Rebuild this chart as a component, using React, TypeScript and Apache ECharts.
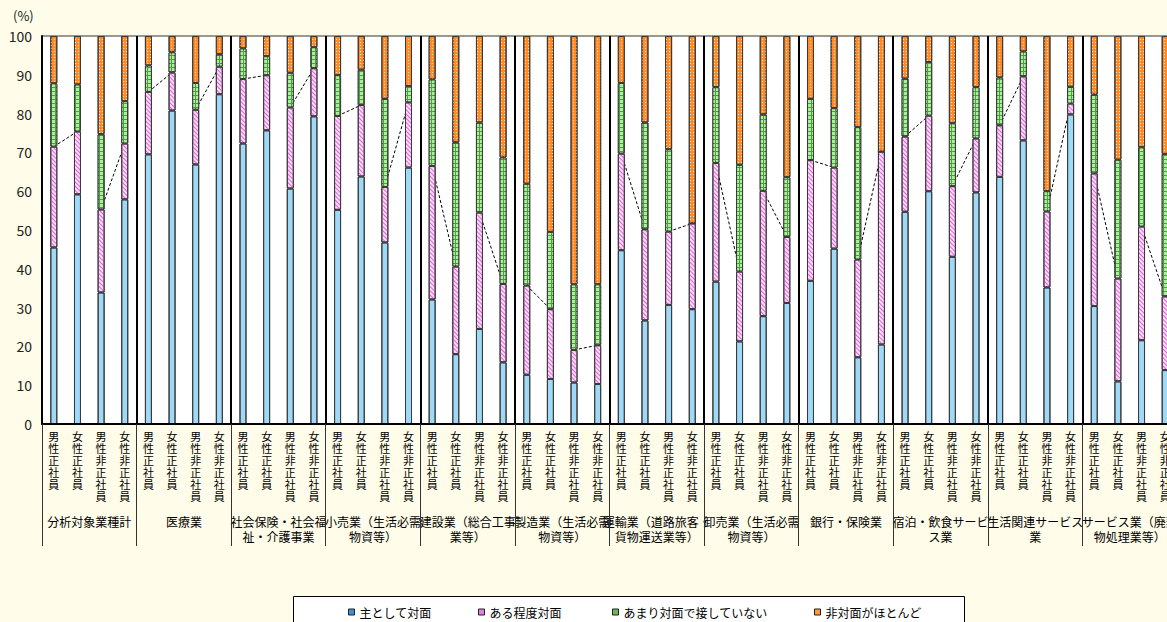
import React, { useEffect, useRef } from "react";
import * as echarts from "echarts";

const groups = [
  "分析対象業種計",
  "医療業",
  "社会保険・社会福\n祉・介護事業",
  "小売業（生活必需\n物資等）",
  "建設業（総合工事\n業等）",
  "製造業（生活必需\n物資等）",
  "運輸業（道路旅客・\n貨物運送業等）",
  "卸売業（生活必需\n物資等）",
  "銀行・保険業",
  "宿泊・飲食サービ\nス業",
  "生活関連サービス\n業",
  "サービス業（廃棄\n物処理業等）",
];

const workerTypes = ["男性正社員", "女性正社員", "男性非正社員", "女性非正社員"];

const seriesNames = ["主として対面", "ある程度対面", "あまり対面で接していない", "非対面がほとんど"];

const mainlyFace = [
  45.5, 59.2, 33.9, 57.9,
  69.5, 80.8, 66.9, 85.0,
  72.3, 75.7, 60.7, 79.3,
  55.2, 63.8, 46.8, 66.1,
  32.1, 18.0, 24.5, 15.9,
  12.7, 11.6, 10.7, 10.3,
  44.8, 26.7, 30.7, 29.6,
  36.7, 21.3, 27.8, 31.2,
  36.9, 45.2, 17.2, 20.5,
  54.7, 60.0, 43.1, 59.7,
  63.7, 73.1, 35.2, 79.8,
  30.4, 11.0, 21.6, 13.9,
];

const someFace = [
  26.0, 16.2, 21.4, 14.4,
  16.1, 9.8, 14.1, 7.1,
  16.6, 14.2, 20.9, 12.4,
  24.2, 18.4, 14.3, 16.8,
  34.4, 22.6, 30.0, 20.2,
  23.0, 18.0, 8.4, 10.0,
  24.9, 23.5, 18.9, 22.1,
  30.6, 18.0, 32.3, 17.0,
  31.1, 20.9, 25.2, 49.7,
  19.4, 19.5, 18.2, 13.9,
  13.3, 16.5, 19.6, 2.8,
  34.2, 26.5, 29.3, 19.0,
];

const rarelyFace = [
  16.3, 12.1, 19.4, 10.9,
  6.8, 5.2, 6.9, 3.2,
  7.9, 4.9, 8.9, 5.4,
  10.5, 9.1, 22.7, 4.2,
  22.3, 32.0, 23.2, 32.6,
  26.2, 19.9, 16.9, 15.7,
  18.2, 27.5, 21.2, 0.0,
  19.5, 27.5, 19.7, 15.4,
  15.8, 15.3, 34.1, 0.0,
  14.9, 13.8, 16.2, 13.2,
  12.3, 6.4, 5.2, 4.3,
  20.3, 30.6, 20.4, 36.7,
];

const mostlyNonFace = [
  12.2, 12.5, 25.3, 16.8,
  7.6, 4.2, 12.1, 4.7,
  3.2, 5.2, 9.5, 2.9,
  10.1, 8.7, 16.2, 12.9,
  11.2, 27.4, 22.3, 31.3,
  38.1, 50.5, 64.0, 64.0,
  12.1, 22.3, 29.2, 48.3,
  13.2, 33.2, 20.2, 36.4,
  16.2, 18.6, 23.5, 29.8,
  11.0, 6.7, 22.5, 13.2,
  10.7, 4.0, 40.0, 13.1,
  15.1, 31.9, 28.7, 30.4,
];

const yTicks = [0, 10, 20, 30, 40, 50, 60, 70, 80, 90, 100];

const FONT = "'Noto Sans CJK JP', 'Noto Sans', sans-serif";

export default function App() {
  const ref = useRef<HTMLDivElement>(null);

  useEffect(() => {
    if (!ref.current) return;
    const chart = echarts.init(ref.current, undefined, { renderer: "svg" });

    const categories: string[] = [];
    groups.forEach((g, gi) => {
      workerTypes.forEach((w) => categories.push(`${gi}|${w}`));
    });

    const pinkTop = mainlyFace.map((v, i) => +(v + someFace[i]).toFixed(1));
    const pairA = pinkTop.map((v, i) => (i % 4 < 2 ? v : null));
    const pairB = pinkTop.map((v, i) => (i % 4 >= 2 ? v : null));

    const styles = [
      { color: "#9ED9F7", decal: { symbol: "circle", symbolSize: 1, color: "#1C6FCC", dashArrayX: [2, 1], dashArrayY: [1, 2] } },
      { color: "#FCDDF9", decal: { symbol: "rect", symbolSize: 1, color: "#E35FDD", dashArrayX: [1, 0], dashArrayY: [1, 2], rotation: Math.PI / 4 } },
      { color: "#4F9E3F", decal: { symbol: "rect", symbolSize: 1, color: "#A9F09B", dashArrayX: [3, 1], dashArrayY: [3, 1] } },
      { color: "#FF8A26", decal: { symbol: "rect", symbolSize: 1, color: "#FFE6C8", dashArrayX: [1, 2], dashArrayY: [1, 2] } },
    ];
    const legendColors = ["#3C8FD8", "#E080DC", "#6DBA5C", "#FF9A40"];
    const values = [mainlyFace, someFace, rarelyFace, mostlyNonFace];

    const barSeries = seriesNames.map((name, si) => ({
      name,
      type: "bar",
      stack: "total",
      barWidth: 7,
      z: 3,
      data: values[si],
      itemStyle: {
        color: styles[si].color,
        decal: styles[si].decal,
        borderColor: "#3a3a3a",
        borderWidth: 1,
      },
    }));

    const lineCommon = {
      type: "line",
      symbol: "none",
      z: 1,
      connectNulls: false,
      silent: true,
      lineStyle: { color: "#000", width: 1, type: [3, 2] },
    };

    const legendLefts = [343, 473, 607, 809];

    chart.setOption({
      animation: false,
      backgroundColor: "#FFFCE9",
      textStyle: { fontFamily: FONT },
      grid: {
        left: 42,
        top: 36,
        width: 1135,
        height: 388,
        show: true,
        backgroundColor: "#ffffff",
        borderColor: "#333",
        borderWidth: 1,
      },
      legend: seriesNames.map((n, i) => ({
        data: [{ name: n, itemStyle: { color: legendColors[i], borderColor: "#222", borderWidth: 1, decal: "none" } }],
        left: legendLefts[i],
        top: 601,
        padding: 5,
        itemWidth: 6,
        itemHeight: 6,
        icon: "rect",
        selectedMode: false,
        textStyle: { fontSize: 12, color: "#000", fontFamily: FONT },
      })),
      xAxis: [
        {
          type: "category",
          data: categories,
          boundaryGap: true,
          axisLine: { show: true, lineStyle: { color: "#000", width: 2 } },
          axisTick: {
            show: true,
            interval: (i: number) => i % 4 === 0,
            length: 122,
            lineStyle: { color: "#333", width: 1 },
          },
          splitLine: {
            show: true,
            interval: (i: number) => i % 4 === 0,
            lineStyle: { color: "#000", width: 2 },
          },
          axisLabel: {
            interval: 0,
            margin: 6,
            fontSize: 11,
            lineHeight: 12,
            color: "#000",
            fontFamily: FONT,
            formatter: (v: string) => v.split("|")[1].split("").join("\n"),
          },
          z: 5,
        },
        {
          type: "category",
          data: groups,
          position: "bottom",
          axisLine: { show: false },
          axisTick: { show: false },
          splitLine: { show: false },
          axisLabel: {
            interval: 0,
            margin: 90,
            fontSize: 12,
            lineHeight: 15,
            color: "#000",
            fontFamily: FONT,
          },
        },
      ],
      yAxis: {
        type: "value",
        min: yTicks[0],
        max: yTicks[yTicks.length - 1],
        interval: 10,
        axisLine: { show: true, lineStyle: { color: "#000", width: 2 } },
        axisTick: { show: false },
        splitLine: { show: false },
        axisLabel: { fontSize: 14, color: "#222", margin: 10, fontFamily: FONT },
      },
      graphic: [
        {
          type: "text",
          left: 13,
          top: 9,
          style: { text: "(%)", fontSize: 13, fill: "#222", fontFamily: FONT },
        },
        {
          type: "rect",
          z: 0,
          shape: { x: 293.5, y: 596.5, width: 671, height: 40 },
          style: { fill: "#fff", stroke: "#000", lineWidth: 1 },
        },
      ],
      series: [
        ...barSeries,
        { ...lineCommon, name: "pairA", data: pairA },
        { ...lineCommon, name: "pairB", data: pairB },
      ],
    });

    return () => chart.dispose();
  }, []);

  return (
    <div
      style={{
        position: "fixed",
        left: 0,
        top: 0,
        width: 1167,
        height: 622,
        overflow: "hidden",
        background: "#FFFCE9",
      }}
    >
      <div ref={ref} style={{ width: 1200, height: 622 }} />
    </div>
  );
}
